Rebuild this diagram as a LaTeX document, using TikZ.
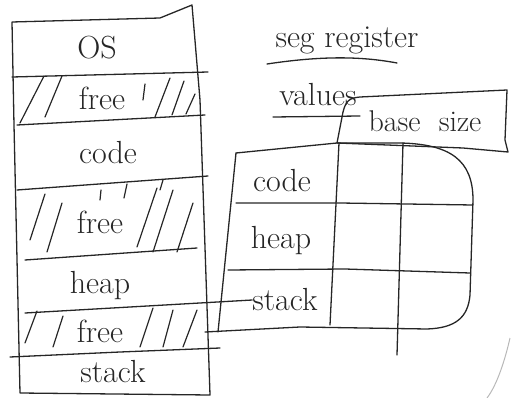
\documentclass[tikz,border=0pt]{standalone}
\usetikzlibrary{calc}
\definecolor{ink}{HTML}{262626}
\definecolor{faint}{HTML}{B8B8B8}
\tikzset{
  pen/.style={draw=ink, line width=1.3pt, line cap=round, line join=round},
  hatch/.style={draw=ink, line width=1.2pt, line cap=round},
  lbl/.style={text=ink, font=\fontsize{32}{36}\selectfont, inner sep=0pt},
  smalllbl/.style={text=ink, font=\fontsize{30}{34}\selectfont, inner sep=0pt}
}
\begin{document}
\begin{tikzpicture}[x=1pt,y=-1pt]
\useasboundingbox (0,0) rectangle (511,398);

% ---------- left column (memory layout) ----------
\draw[pen] (20,393) -- (14,125) -- (12,22) -- (160,18) -- (192,5) -- (200,100) -- (210,395) -- (20,393);
\draw[pen] (12,77) -- (208,72);
\draw[pen] (17,125) -- (205,115);
\draw[pen] (17,190) -- (208,176);
\draw[pen] (25,260) -- (197,248);
\draw[pen] (10,357) -- (120,352) -- (220,348);

% hatching of the free regions
\foreach \a/\b in {{(20,123)/(44,76)},{(45,117)/(62,76)},{(155,117)/(170,78)},{(172,115)/(184,81)},{(186,114)/(195,94)},{(145,84)/(143,100)}}
  \draw[hatch] \a -- \b;
\foreach \a/\b in {{(30,240)/(45,194)},{(47,252)/(62,203)},{(137,247)/(157,188)},{(153,252)/(173,190)},{(177,252)/(193,203)},{(101,190)/(100,200)},{(127,184)/(124,198)},{(163,180)/(160,190)}}
  \draw[hatch] \a -- \b;
\foreach \a/\b in {{(25,343)/(37,311)},{(53,347)/(63,316)},{(140,347)/(153,308)},{(163,347)/(173,310)},{(183,347)/(197,310)}}
  \draw[hatch] \a -- \b;

\node[lbl] (os)    at (97,48)  {OS};
\node[lbl] (free1) at (102,98) {free};
\node[lbl] (code)  at (108,153) {code};
\node[lbl] (free2) at (100,222) {free};
\node[lbl] (heap)  at (100,286) {heap};
\node[lbl] (free3) at (100,331) {free};
\node[lbl] (stack) at (113,372) {stack};

% ---------- right side ----------
\node[lbl] (seg) at (347,40) {seg register};
\draw[pen] (267,64) .. controls (320,56) and (360,56) .. (397,63);
\node[lbl] (values) at (318,95) {values};
\draw[pen] (273,117) -- (360,116);

% base / size box
\draw[pen] (337,143) -- (343,112) .. controls (346,100) and (350,98) .. (360,97) -- (507,90) -- (505,140) -- (508,152) -- (463,148) -- (337,143);
\node[smalllbl] (basesize) at (425,121) {base\ \ size};

% table of segment registers
\coordinate (tl) at (236,153);
\draw[pen] (tl) -- (337,143) -- (400,143) .. controls (450,144) and (473,160) .. (473,200)
  -- (470,295) .. controls (468,318) and (455,328) .. (427,329) -- (300,327) -- (205,332);
\draw[pen] (tl) -- (218,332);
\draw[pen] (236,203) -- (340,203) -- (473,205);
\draw[pen] (228,270) -- (345,269) -- (470,273);
\draw[pen] (339,143) -- (330,325);
\draw[pen] (403,143) -- (397,355);

\node[lbl] (tcode)  at (282,181) {code};
\node[lbl] (theap)  at (281,241) {heap};
\node[lbl] (tstack) at (285,300) {stack};

% connector from the column to the stack row
\coordinate (hf) at (25,313);
\draw[pen] (hf) -- (tstack.west);

% paper edge
\draw[faint, line width=1pt] (510,338) .. controls (505,360) and (497,385) .. (487,398);
\end{tikzpicture}
\end{document}
